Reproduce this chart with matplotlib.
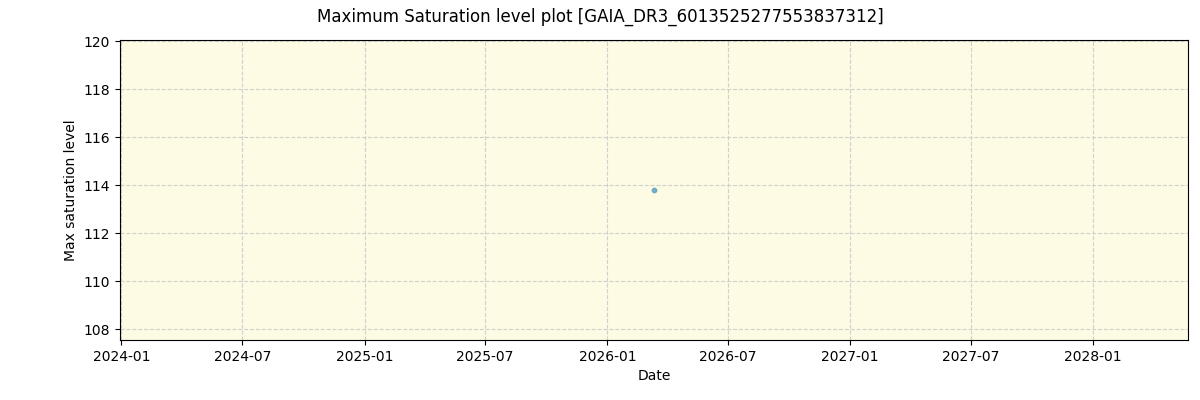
import numpy as np
import pandas as pd
import matplotlib
matplotlib.use("Agg")
import matplotlib.pyplot as plt
import matplotlib.dates as mdates

# 数据
star_name = "GAIA_DR3_6013525277553837312"
obs_dates = ["2026-03-12"]
sat_levels = [113.8]

dates = pd.to_datetime(obs_dates)

fig, ax = plt.subplots(figsize=(12, 4), dpi=100)
fig.subplots_adjust(left=0.1, right=0.99, top=0.9, bottom=0.15)

ax.set_facecolor("#fdfbe3")
ax.scatter(dates, sat_levels, s=10, color="#5fa3c7", alpha=0.85, zorder=3)

ax.set_xlim(pd.Timestamp("2023-12-30"), pd.Timestamp("2028-05-23"))
ax.set_ylim(107.55, 120.05)
ax.xaxis.set_major_locator(mdates.MonthLocator(bymonth=[1, 7]))
ax.xaxis.set_major_formatter(mdates.DateFormatter("%Y-%m"))

ax.grid(True, linestyle="--", color="#cccccc", alpha=0.9)
ax.set_axisbelow(True)
ax.set_xlabel("Date")
ax.set_ylabel("Max saturation level")
fig.suptitle(f"Maximum Saturation level plot [{star_name}]", fontsize=12)

plt.savefig("out.png", dpi=100, facecolor="white")
plt.close()
